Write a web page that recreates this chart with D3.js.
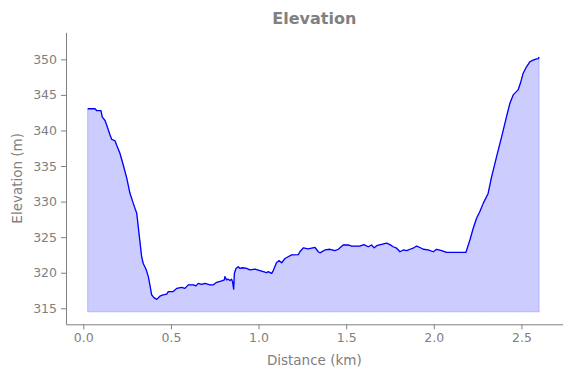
<!DOCTYPE html>
<html>
<head>
<meta charset="utf-8">
<script src="https://cdn.jsdelivr.net/npm/d3@7"></script>
<style>
  body { margin: 0; background: #fff; }
  svg text { font-family: "DejaVu Sans", sans-serif; fill: #808080; }
</style>
</head>
<body>
<svg id="chart" width="571" height="378"></svg>
<script>
// distance along the track (km)
const dist = [0.025, 0.067, 0.076, 0.101, 0.108, 0.124, 0.133, 0.152, 0.162, 0.181,
  0.19, 0.209, 0.228, 0.248, 0.266, 0.282, 0.295, 0.305, 0.318, 0.333,
  0.342, 0.358, 0.371, 0.38, 0.39, 0.403, 0.419, 0.437, 0.456, 0.476,
  0.485, 0.513, 0.533, 0.561, 0.58, 0.599, 0.628, 0.643, 0.656, 0.675,
  0.694, 0.723, 0.742, 0.761, 0.79, 0.805, 0.808, 0.818, 0.827, 0.837,
  0.846, 0.852, 0.858, 0.862, 0.871, 0.884, 0.894, 0.909, 0.932, 0.951,
  0.98, 1.008, 1.027, 1.046, 1.055, 1.075, 1.084, 1.103, 1.118, 1.132,
  1.151, 1.169, 1.189, 1.227, 1.236, 1.255, 1.284, 1.303, 1.322, 1.341,
  1.35, 1.379, 1.407, 1.436, 1.455, 1.483, 1.512, 1.531, 1.578, 1.601,
  1.626, 1.645, 1.66, 1.674, 1.702, 1.731, 1.75, 1.768, 1.788, 1.807,
  1.826, 1.845, 1.864, 1.882, 1.902, 1.921, 1.94, 1.968, 1.997, 2.016,
  2.045, 2.073, 2.183, 2.206, 2.225, 2.244, 2.263, 2.282, 2.31, 2.33,
  2.358, 2.387, 2.415, 2.434, 2.453, 2.481, 2.495, 2.51, 2.529, 2.548,
  2.567, 2.586, 2.596, 2.601]

// elevation (m)
const elev = [343.05, 343.05, 342.8, 342.8, 341.9, 341.4, 340.8, 339.4, 338.75, 338.55,
  337.95, 336.8, 335.15, 333.3, 331.2, 330.0, 329.05, 328.35, 325.5, 322.25,
  321.3, 320.5, 319.45, 318.3, 316.9, 316.5, 316.25, 316.7, 316.9, 317.0,
  317.35, 317.35, 317.8, 317.95, 317.8, 318.3, 318.3, 318.15, 318.5, 318.35,
  318.5, 318.3, 318.3, 318.65, 318.85, 319.0, 319.45, 319.0, 319.1, 318.9,
  319.1, 318.7, 317.7, 319.9, 320.6, 320.85, 320.6, 320.7, 320.6, 320.4,
  320.5, 320.3, 320.15, 320.0, 320.15, 319.9, 320.3, 321.45, 321.7, 321.4,
  322.0, 322.25, 322.5, 322.55, 322.95, 323.5, 323.35, 323.45, 323.55, 322.95,
  322.8, 323.2, 323.3, 323.1, 323.3, 323.9, 323.9, 323.75, 323.75, 323.95,
  323.65, 323.9, 323.5, 323.8, 324.0, 324.15, 323.95, 323.65, 323.45, 322.95,
  323.2, 323.1, 323.3, 323.45, 323.75, 323.55, 323.3, 323.2, 322.95, 323.3,
  323.1, 322.85, 322.85, 324.6, 326.25, 327.65, 328.6, 329.75, 331.15, 333.5,
  336.3, 339.1, 341.95, 343.8, 345.0, 345.7, 346.7, 348.05, 348.95, 349.65,
  349.9, 350.05, 350.1, 350.3]

const baseline = 314.5
const xTicks = [0, 0.5, 1.0, 1.5, 2.0, 2.5]
const yTicks = [315, 320, 325, 330, 335, 340, 345, 350]

const grey = "#808080"
const box = { left: 66, top: 32.3, right: 562.6, bottom: 324.3 }

function draw() {
  let data = dist.map((d, i) => ({ d: d, e: elev[i] }))
  let svg = d3.select("#chart")

  let x = d3.scaleLinear().domain([-0.0987, 2.735]).range([box.left, box.right])
  let y = d3.scaleLinear().domain([312.75, 353.8]).range([box.bottom, box.top])

  // shaded profile
  svg.append("path")
    .datum(data)
    .attr("d", d3.area().x(p => x(p.d)).y0(y(baseline)).y1(p => y(p.e)))
    .attr("fill", "rgba(0,0,255,0.2)")
    .attr("stroke", "rgba(0,0,255,0.2)")
    .attr("stroke-width", 1)

  svg.append("path")
    .datum(data)
    .attr("d", d3.line().x(p => x(p.d)).y(p => y(p.e)))
    .attr("fill", "none")
    .attr("stroke", "#0000ff")
    .attr("stroke-width", 1.3)
    .attr("stroke-linejoin", "round")

  // axes (left and bottom spines only)
  let xAxis = svg.append("g")
    .attr("transform", `translate(0,${box.bottom})`)
    .call(d3.axisBottom(x).tickValues(xTicks).tickFormat(d3.format(".1f"))
      .tickSize(5).tickSizeOuter(0).tickPadding(4))
  let yAxis = svg.append("g")
    .attr("transform", `translate(${box.left},0)`)
    .call(d3.axisLeft(y).tickValues(yTicks).tickFormat(d3.format("d"))
      .tickSize(5).tickSizeOuter(0).tickPadding(4))

  for (let g of [xAxis, yAxis]) {
    g.select(".domain").attr("stroke", grey)
    g.selectAll(".tick line").attr("stroke", grey)
    g.selectAll(".tick text")
      .attr("fill", grey)
      .style("font-size", "12.5px")
      .style("font-family", "DejaVu Sans, sans-serif")
  }

  svg.append("text")
    .attr("x", (box.left + box.right) / 2)
    .attr("y", 24)
    .attr("text-anchor", "middle")
    .style("font-size", "16px")
    .style("font-weight", "bold")
    .text("Elevation")

  svg.append("text")
    .attr("x", (box.left + box.right) / 2)
    .attr("y", 365)
    .attr("text-anchor", "middle")
    .style("font-size", "13.5px")
    .text("Distance (km)")

  svg.append("text")
    .attr("transform", `translate(22,${(box.top + box.bottom) / 2}) rotate(-90)`)
    .attr("text-anchor", "middle")
    .style("font-size", "13.5px")
    .text("Elevation (m)")
}

draw()
</script>
</body>
</html>
